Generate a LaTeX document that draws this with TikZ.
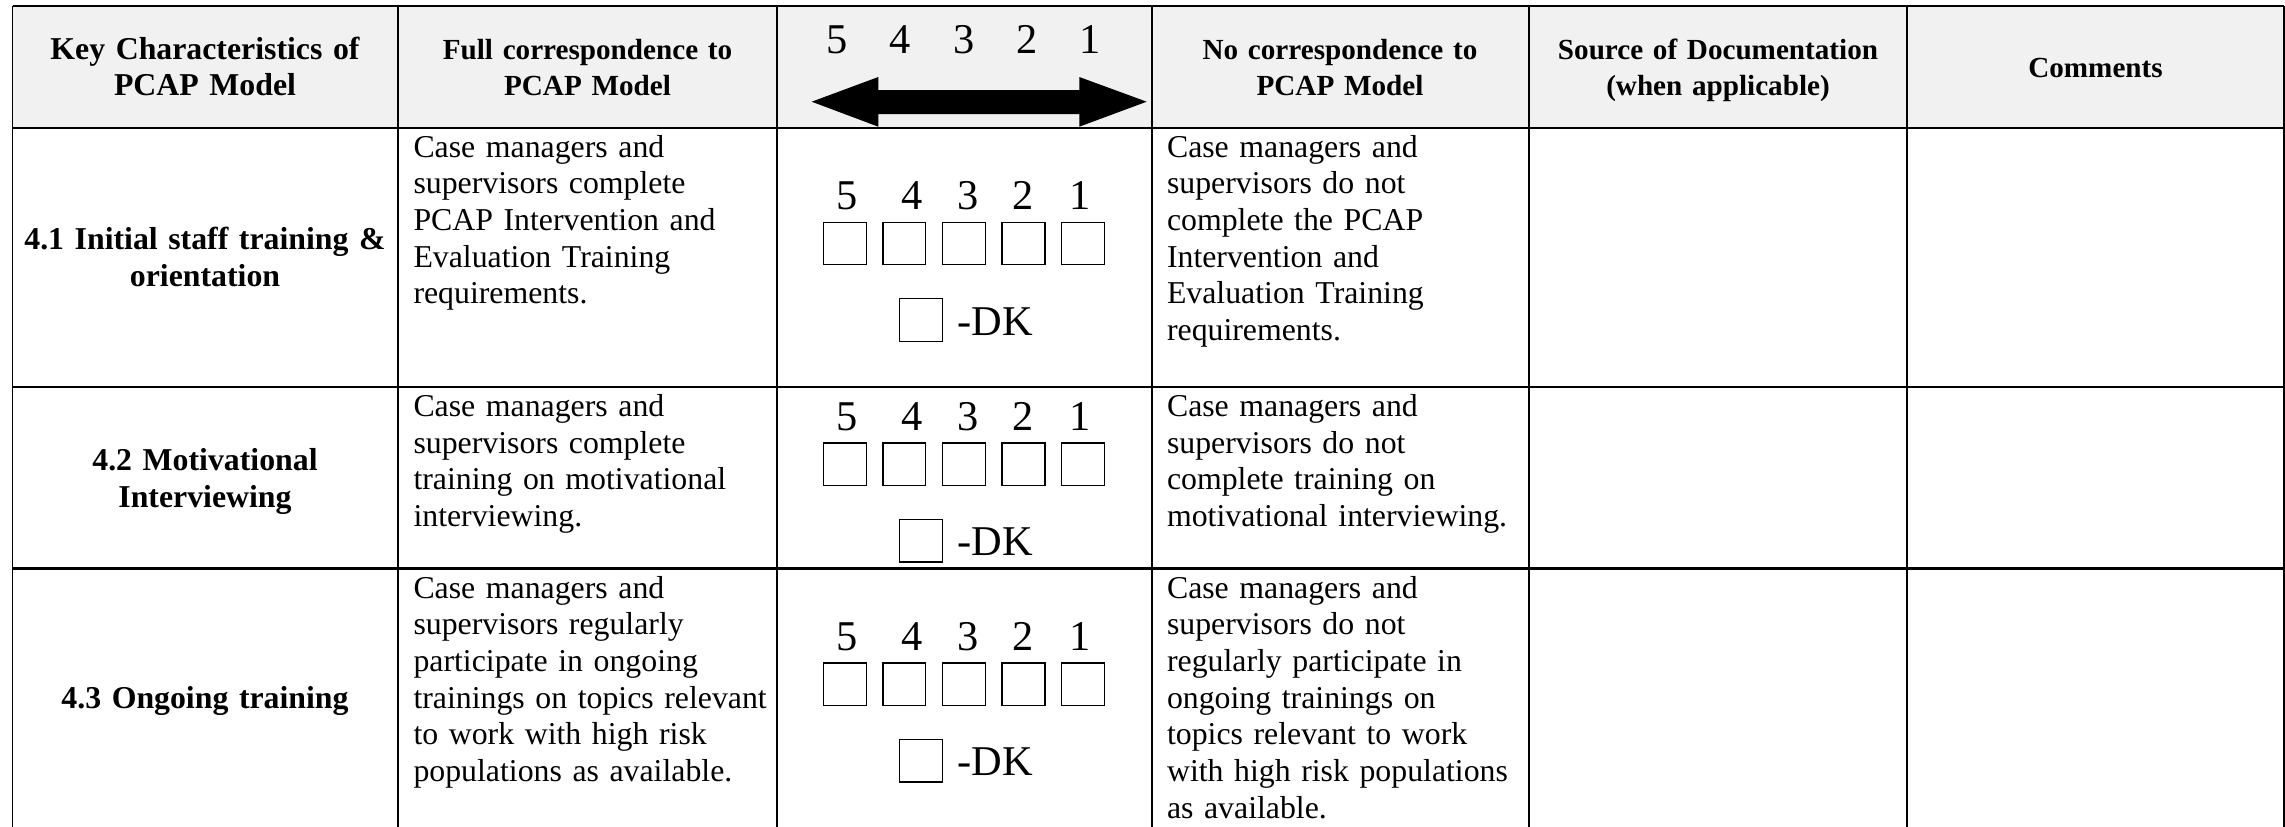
\documentclass[tikz,border=0pt]{standalone}
\usepackage{fontspec}
\setmainfont{Liberation Serif}
\definecolor{hdrgray}{RGB}{241,241,241}

\begin{document}
\begin{tikzpicture}[x=0.37736pt,y=-0.37736pt]
%\draw[help lines] (0,0) grid (2285,826);
\tikzstyle{hd}=[font=\bfseries\fontsize{11}{13.5}\selectfont,text width=145pt,align=center,anchor=base,inner sep=0]
\tikzstyle{lab}=[font=\bfseries\fontsize{12}{14}\selectfont,text width=145pt,align=center,anchor=base,inner sep=0]
\tikzstyle{txt}=[font=\fontsize{12}{13.85}\selectfont,text width=150pt,align=left,anchor=base west,inner sep=0]
\tikzstyle{dig}=[font=\fontsize{16}{19}\selectfont,anchor=base,inner sep=0]
\tikzstyle{cb}=[draw,line width=0.5pt,inner sep=0,minimum width=16.2pt,minimum height=16pt]

\useasboundingbox (0,0) rectangle (2285,826);
\clip (0,0) rectangle (2285,826);

\fill[hdrgray] (12.5,6) rectangle (2284,128);

% table rules
\foreach \y in {6,128,387,568.5} \draw[line width=1.1pt] (12.5,\y) -- (2284,\y);
\foreach \x in {12.5,398,777,1151.5,1529,1907,2284} \draw[line width=0.75pt] (\x,6) -- (\x,840);

% header
\node[hd,font=\bfseries\fontsize{12}{13.5}\selectfont] (h1) at (205,59.3) {Key Characteristics of\\PCAP Model};
\node[hd] (h2) at (587.5,59.3) {Full correspondence to\\PCAP Model};
\node[hd] (h4) at (1340,59.3) {No correspondence to\\PCAP Model};
\node[hd] (h5) at (1718,59.3) {Source of Documentation\\(when applicable)};
\node[hd] (h6) at (2095.5,77.5) {Comments};

\foreach \d/\x in {5/836.7,4/900,3/964.5,2/1027.5,1/1090.5}
  \node[dig] (s\d) at (\x,53.3) {\d};
\fill (811.7,101.7) -- (878.3,77) -- (878.3,90) -- (1079.3,90) -- (1079.3,77) -- (1146.7,101.7)
  -- (1079.3,126.7) -- (1079.3,114) -- (878.3,114) -- (878.3,126.7) -- cycle;

% key characteristics
\node[lab] (k1) at (205,249) {4.1 Initial staff training \&\\orientation};
\node[lab] (k2) at (205,470.5) {4.2 Motivational\\Interviewing};
\node[lab] (k3) at (205,708) {4.3 Ongoing training};

% full correspondence
\node[txt] (f1) at (413,157) {Case managers and\\supervisors complete\\PCAP Intervention and\\Evaluation Training\\requirements.};
\node[txt] (f2) at (413,416.5) {Case managers and\\supervisors complete\\training on motivational\\interviewing.};
\node[txt] (f3) at (413,598) {Case managers and\\supervisors regularly\\participate in ongoing\\trainings on topics relevant\\to work with high risk\\populations as available.};

% rating boxes
\foreach \r/\b in {1/209.3,2/430,3/650} {
  \foreach \d/\x in {5/847,4/911.7,3/968.5,2/1023,1/1080}
    \node[dig] (r\r d\d) at (\x,\b) {\d};
  \foreach \i in {0,...,4}
    \node[cb] (b\r\i) at ({844.7+59.6*\i},{\b+34.1}) {};
  \node[cb] (dk\r) at (920.9,{\b+110.7}) {};
  \node[dig,anchor=base west] (dkt\r) at (957.3,{\b+125.7}) {-DK};
}

% no correspondence
\node[txt] (n1) at (1166.5,157) {Case managers and\\supervisors do not\\complete the PCAP\\Intervention and\\Evaluation Training\\requirements.};
\node[txt] (n2) at (1166.5,416.5) {Case managers and\\supervisors do not\\complete training on\\motivational interviewing.};
\node[txt] (n3) at (1166.5,598) {Case managers and\\supervisors do not\\regularly participate in\\ongoing trainings on\\topics relevant to work\\with high risk populations\\as available.};
\end{tikzpicture}
\end{document}
